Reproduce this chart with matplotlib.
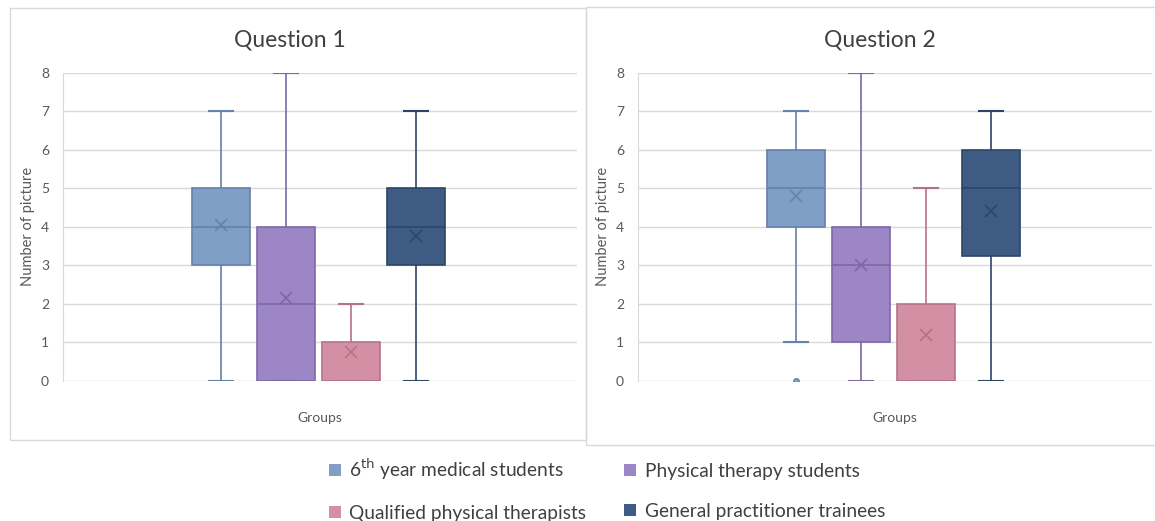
import matplotlib
matplotlib.use("Agg")
import matplotlib.pyplot as plt
from matplotlib.patches import Patch, Rectangle

plt.rcParams['font.family'] = ['Lato', 'DejaVu Sans']

groups = ["6$^{\\mathrm{th}}$ year medical students", "Physical therapy students",
          "Qualified physical therapists", "General practitioner trainees"]
fills = ["#7F9FC7", "#9D86C5", "#D38FA3", "#3E5B84"]
edges = ["#6482AA", "#7D68A6", "#B57389", "#2E4568"]

# five-number summaries per group: min, q1, median, q3, max
q1_whislo = [0, 0, 0, 0]
q1_q1 = [3, 0, 0, 3]
q1_med = [4, 2, 0, 4]
q1_q3 = [5, 4, 1, 5]
q1_whishi = [7, 8, 2, 7]
q1_mean = [4.05, 2.15, 0.75, 3.75]
q1_fliers = [[], [], [], []]

q2_whislo = [1, 0, 0, 0]
q2_q1 = [4, 1, 0, 3.25]
q2_med = [5, 3, 0, 5]
q2_q3 = [6, 4, 2, 6]
q2_whishi = [7, 8, 5, 7]
q2_mean = [4.8, 3.0, 1.2, 4.42]
q2_fliers = [[0], [], [], []]

questions = [
    ("Question 1", q1_whislo, q1_q1, q1_med, q1_q3, q1_whishi, q1_mean, q1_fliers),
    ("Question 2", q2_whislo, q2_q1, q2_med, q2_q3, q2_whishi, q2_mean, q2_fliers),
]

W, H = 1155, 521
fig = plt.figure(figsize=(W / 100, H / 100), dpi=100)

# light frames around each panel
for x0, x1, y0, y1 in [(10, 586, 8, 440), (586, 1160, 7, 445)]:
    fig.add_artist(Rectangle((x0 / W, 1 - y1 / H), (x1 - x0) / W, (y1 - y0) / H,
                             transform=fig.transFigure, fill=False,
                             edgecolor="#D9D9D9", lw=1))

ax_lefts = [63, 638]
title_x = [290, 880]
for k, (title, lo, qa, md, qb, hi, mn, fl) in enumerate(questions):
    ax = fig.add_axes([ax_lefts[k] / W, 1 - 381 / H, 514 / W, (381 - 72.5) / H])
    for i in range(4):
        stats = [dict(whislo=lo[i], q1=qa[i], med=md[i], q3=qb[i], whishi=hi[i],
                      mean=mn[i], fliers=fl[i])]
        ax.bxp(stats, positions=[i + 1], widths=0.89, capwidths=[0.36],
               patch_artist=True, showmeans=True,
               boxprops=dict(facecolor=fills[i], edgecolor=edges[i], lw=1.2),
               medianprops=dict(color=edges[i], lw=1.2),
               whiskerprops=dict(color=edges[i], lw=1.2),
               capprops=dict(color=edges[i], lw=1.5),
               meanprops=dict(marker="x", markeredgecolor=edges[i], markersize=9,
                              markeredgewidth=1.2),
               flierprops=dict(marker="o", markerfacecolor=fills[i],
                               markeredgecolor=edges[i], markersize=4))
    ax.set_xlim(-1.43, 6.48)
    ax.set_ylim(0, 8)
    ax.set_yticks(range(9))
    ax.set_xticks([])
    ax.grid(axis="y", color="#D9D9D9", lw=1)
    ax.set_axisbelow(True)
    for s in ["top", "right", "bottom"]:
        ax.spines[s].set_visible(False)
    ax.spines["left"].set_color("#D9D9D9")
    ax.tick_params(axis="y", length=0, labelsize=10, labelcolor="#595959", pad=10)
    ax.set_ylabel("Number of picture", fontsize=10.5, color="#595959", labelpad=4)
    ax.set_xlabel("Groups", fontsize=10, color="#595959", labelpad=22)
    fig.text(title_x[k] / W, 1 - 40 / H, title, fontsize=16.5, color="#404040",
             ha="center", va="center")

# legend fills column by column, so order entries to read row by row
order = [0, 2, 1, 3]
handles = [Patch(facecolor=fills[i], edgecolor="none") for i in order]
labels = [groups[i] for i in order]
fig.legend(handles, labels, ncol=2, loc="center", bbox_to_anchor=(607 / W, 1 - 489 / H),
           frameon=False, fontsize=13.8, labelcolor="#404040", handlelength=0.6,
           handleheight=0.6, handletextpad=0.45, columnspacing=2.0, labelspacing=1.2)

fig.savefig("out.png", dpi=100)
